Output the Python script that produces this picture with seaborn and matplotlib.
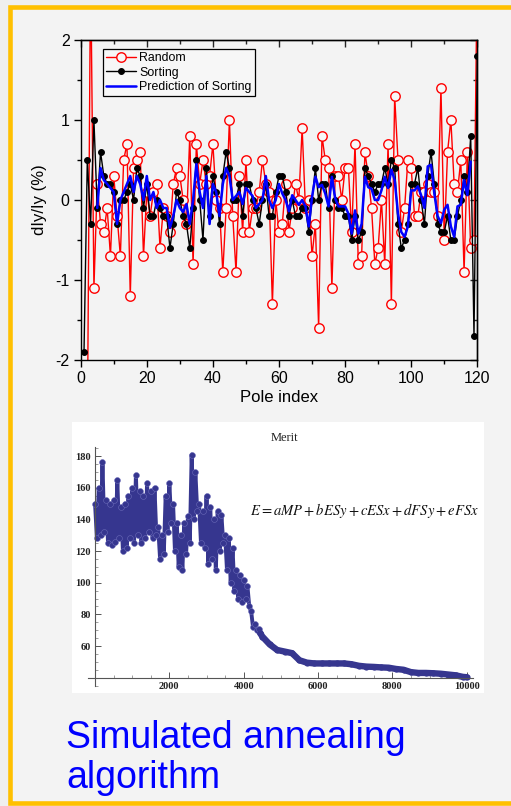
import matplotlib
matplotlib.use('Agg')
import matplotlib.pyplot as plt
from matplotlib.patches import Rectangle
from matplotlib.ticker import MultipleLocator, FixedLocator
import seaborn as sns

sns.set_theme(style='white')
plt.rcParams['font.family'] = ['Liberation Sans', 'DejaVu Sans']
plt.rcParams['axes.unicode_minus'] = False
plt.rcParams['mathtext.fontset'] = 'stix'

# ---------------- data: top chart ----------------
random_start = 2
random_vals = [-3.0, 3.0, -1.1, 0.2, -0.3, -0.4, -0.1, -0.7, 0.3,
               -0.2, -0.7, 0.5, 0.7, -1.2, 0.4, 0.5, 0.6, -0.7, 0.1,
               -0.2, 0.1, 0.2, -0.6, -0.1, -0.2, -0.4, 0.2, 0.4, 0.3,
               0.0, -0.3, 0.8, -0.8, 0.7, 0.2, 0.5, 0.2, 0.3, 0.7,
               0.0, -0.1, -0.9, -0.1, 1.0, -0.2, -0.9, 0.3, -0.4, 0.5,
               -0.4, -0.1, -0.1, 0.1, 0.5, 0.2, 0.1, -1.3, 0.0, -0.4,
               -0.3, 0.2, -0.4, -0.1, 0.2, 0.0, 0.9, -0.1, 0.0, -0.7,
               -0.3, -1.6, 0.8, 0.5, 0.4, -1.1, 0.3, 0.3, 0.0, 0.4,
               0.4, -0.4, 0.7, -0.8, -0.7, 0.6, 0.3, -0.1, -0.8, -0.6,
               0.0, -0.8, 0.7, -1.3, 1.3, 0.5, -0.4, -0.1, 0.5, 0.4,
               -0.2, -0.2, 0.1, 0.1, 0.2, 0.1, 0.1, -0.2, 1.4, -0.5,
               0.6, 1.0, 0.2, 0.1, 0.5, -0.9, 0.6, -0.6, -0.5, 3.0]

sorting_start = 1
sorting_vals = [-1.9, 0.5, -0.3, 1.0, -0.1, 0.6, 0.3, 0.2, 0.2, 0.1,
                -0.3, 0.0, 0.0, 0.1, 0.2, 0.0, 0.4, 0.3, -0.1, 0.2,
                -0.2, -0.2, 0.0, -0.1, -0.2, -0.2, -0.6, -0.3, 0.1, 0.0,
                -0.2, -0.3, -0.6, -0.1, 0.5, 0.0, -0.5, 0.4, -0.2, 0.3,
                0.1, -0.3, 0.3, 0.6, 0.4, 0.0, 0.0, 0.2, -0.2, 0.2,
                0.2, 0.0, -0.1, -0.3, 0.0, 0.2, -0.2, -0.2, 0.1, 0.3,
                0.3, 0.1, -0.2, 0.0, -0.2, -0.2, -0.1, -0.1, -0.4, 0.0,
                0.4, 0.0, 0.2, 0.2, -0.1, 0.3, 0.0, -0.1, -0.1, -0.2,
                -0.2, -0.5, -0.2, -0.5, -0.4, 0.4, 0.3, 0.2, 0.1, 0.2,
                0.2, 0.4, 0.2, 0.5, 0.4, -0.3, -0.6, -0.5, -0.3, 0.2,
                0.2, 0.4, 0.0, -0.3, 0.3, 0.6, 0.2, -0.3, -0.4, -0.4,
                -0.2, -0.5, -0.5, -0.2, 0.0, 0.3, 0.1, 0.8, -1.7, 1.8]

pred_start = 5
pred_vals = [-0.1, 0.4, 0.25, 0.2, 0.15, 0.1,
             -0.3, 0.0, 0.1, 0.2, 0.3, 0.1, 0.3, 0.2, 0.0, 0.3,
             0.0, 0.1, -0.1, 0.0, -0.1, -0.1, -0.35, -0.2, 0.0, -0.1,
             -0.15, -0.05, -0.3, 0.0, 0.45, 0.1, -0.1, 0.3, -0.3, 0.2,
             0.1, -0.2, 0.2, 0.4, 0.3, 0.0, 0.05, 0.1, -0.05, 0.15,
             0.1, 0.05, -0.1, -0.05, 0.0, 0.3, 0.0, -0.1, 0.0, 0.2,
             0.08, 0.0, -0.14, 0.06, 0.0, -0.06, 0.0, -0.08, -0.33, 0.04,
             0.29, 0.16, 0.19, 0.08, -0.08, 0.29, 0.02, -0.08, -0.08, -0.08,
             -0.17, -0.42, -0.13, -0.42, -0.3, 0.29, 0.16, 0.14, 0.0, 0.0,
             0.12, 0.29, 0.15, 0.38, 0.25, -0.17, -0.4, -0.46, -0.33, 0.12,
             0.12, 0.17, 0.06, -0.1, 0.42, 0.44, 0.08, -0.2, -0.29, -0.12,
             -0.06, -0.33, -0.46, -0.08, -0.06, 0.25, 0.06, 0.48]

x_ticks_top = [0, 20, 40, 60, 80, 100, 120]
y_ticks_top = [-2, -1, 0, 1, 2]

# ---------------- data: merit chart ----------------
merit_band_x = list(range(0, 4401, 100))
merit_hi = [150, 160, 176, 152, 150, 152, 165, 148, 150, 155,
            160, 168, 158, 155, 163, 158, 160, 135, 130, 155,
            163, 150, 138, 130, 138, 142, 181, 170, 150, 145,
            155, 148, 140, 145, 143, 130, 128, 122, 108, 105,
            102, 98, 82, 74, 71]
merit_lo = [128, 130, 132, 125, 124, 126, 128, 120, 122, 128,
            125, 130, 125, 128, 132, 128, 130, 115, 118, 132,
            138, 120, 110, 108, 118, 125, 140, 145, 125, 122,
            112, 115, 108, 120, 125, 108, 100, 95, 90, 88,
            90, 85, 72, 70, 68]
merit_tail_x = [4500, 4700, 4900, 5100, 5300, 5500, 5700, 5900, 6100, 6300,
                6500, 6700, 6900, 7100, 7300, 7500, 7700, 7900, 8100, 8300,
                8500, 8700, 8900, 9100, 9300, 9500, 9700, 9900, 10000]
merit_tail = [66, 61, 57.5, 56.5, 55.5, 51, 49.5, 49, 49, 49,
              49, 49, 48.5, 47.5, 47, 46.8, 46.5, 46.3, 45.5, 45,
              43.5, 43, 43, 42.8, 42.5, 42, 41.5, 40.5, 40.3]
x_ticks_merit = [2000, 4000, 6000, 8000, 10000]
y_ticks_merit = [60, 80, 100, 120, 140, 160, 180]

# ---------------- figure ----------------
W, H = 511, 806
fig = plt.figure(figsize=(W / 100, H / 100), dpi=100, facecolor='#efefef')


def fx(px):
    return px / W


def fy(py):
    return 1 - py / H


fig.patches.append(Rectangle((fx(10), fy(803)), 1.2, fy(7) - fy(803),
                             transform=fig.transFigure, facecolor='#f3f3f3',
                             edgecolor='#FFC000', lw=3.3, zorder=-3))
fig.patches.append(Rectangle((fx(72), fy(693)), fx(484) - fx(72), fy(422) - fy(693),
                             transform=fig.transFigure, facecolor='white',
                             edgecolor='none', zorder=-2))

# ---------------- top chart ----------------
ax1 = fig.add_axes([fx(80.7), fy(360), fx(477.3) - fx(80.7), fy(40) - fy(360)])
ax1.patch.set_alpha(0)

rx = list(range(random_start, random_start + len(random_vals)))
sx = list(range(sorting_start, sorting_start + len(sorting_vals)))
px_ = list(range(pred_start, pred_start + len(pred_vals)))

sns.lineplot(x=rx, y=random_vals, ax=ax1, color='#ff0000', lw=1.0, marker='o',
             markersize=6.8, markerfacecolor='#f7f7f7', markeredgecolor='#ff0000',
             markeredgewidth=1.0, label='Random', zorder=2, sort=False)
sns.lineplot(x=sx, y=sorting_vals, ax=ax1, color='black', lw=1.0, marker='o',
             markersize=4.2, markerfacecolor='black', markeredgecolor='black',
             label='Sorting', zorder=3, sort=False)
sns.lineplot(x=px_, y=pred_vals, ax=ax1, color='#0000ff', lw=1.8,
             label='Prediction of Sorting', zorder=4, sort=False)

ax1.set_xlim(0, 120)
ax1.set_ylim(-2, 2)
ax1.xaxis.set_major_locator(FixedLocator(x_ticks_top))
ax1.xaxis.set_minor_locator(MultipleLocator(10))
ax1.yaxis.set_major_locator(FixedLocator(y_ticks_top))
ax1.yaxis.set_minor_locator(MultipleLocator(0.5))
for s in ax1.spines.values():
    s.set_color('black')
    s.set_linewidth(1.0)
ax1.tick_params(axis='both', which='major', direction='out', length=5, width=1,
                color='black', labelsize=11.5, labelcolor='black', pad=3,
                bottom=True, left=True)
ax1.tick_params(axis='both', which='minor', direction='out', length=3, width=1,
                color='black', bottom=True, left=True)
sec_x = ax1.secondary_xaxis('top')
sec_x.xaxis.set_major_locator(FixedLocator(x_ticks_top))
sec_x.xaxis.set_minor_locator(MultipleLocator(10))
sec_x.tick_params(which='major', direction='in', length=5, width=1, labeltop=False)
sec_x.tick_params(which='minor', direction='in', length=3, width=1)
sec_x.spines['top'].set_linewidth(1.0)
sec_y = ax1.secondary_yaxis('right')
sec_y.yaxis.set_major_locator(FixedLocator(y_ticks_top))
sec_y.yaxis.set_minor_locator(MultipleLocator(0.5))
sec_y.tick_params(which='major', direction='in', length=5, width=1, labelright=False)
sec_y.tick_params(which='minor', direction='in', length=3, width=1)
sec_y.spines['right'].set_linewidth(1.0)

ax1.set_xlabel('Pole index', fontsize=12, color='black', labelpad=3)
ax1.set_ylabel('dIy/Iy (%)', fontsize=12, color='black', labelpad=6)

leg = ax1.legend(loc='upper left', bbox_to_anchor=(0.056, 0.972), borderaxespad=0,
                 fontsize=8.9, frameon=True, fancybox=False, edgecolor='black',
                 facecolor='#f7f7f7', framealpha=1, handlelength=2.4,
                 handletextpad=0.3, borderpad=0.25, labelspacing=0.2)
leg.get_frame().set_linewidth(0.9)
for t in leg.get_texts():
    t.set_color('black')

# ---------------- merit chart ----------------
ax2 = fig.add_axes([fx(87.6), fy(685.6), fx(473.4) - fx(87.6), fy(446.6) - fy(685.6)])
ax2.patch.set_alpha(0)
mcol = '#36368f'

zig_x, zig_y = [], []
for i, xb in enumerate(merit_band_x):
    zig_x += [xb, xb + 50]
    zig_y += [merit_hi[i], merit_lo[i]]
sns.lineplot(x=zig_x, y=zig_y, ax=ax2, color=mcol, lw=2.8, marker='o',
             markersize=4.2, markeredgewidth=0.4, markeredgecolor='#6a6ab8',
             sort=False)
sns.lineplot(x=[zig_x[-1]] + merit_tail_x, y=[zig_y[-1]] + merit_tail, ax=ax2,
             color=mcol, lw=4.6, marker='o', markersize=4.5, markeredgewidth=0,
             sort=False)

ax2.set_xlim(-200, 10180)
ax2.set_ylim(35, 186)
ax2.spines['top'].set_visible(False)
ax2.spines['right'].set_visible(False)
ax2.spines['left'].set_position(('data', 0))
ax2.spines['bottom'].set_position(('data', 40))
for s in ('left', 'bottom'):
    ax2.spines[s].set_color('#555555')
    ax2.spines[s].set_linewidth(0.8)
ax2.xaxis.set_major_locator(FixedLocator(x_ticks_merit))
ax2.xaxis.set_minor_locator(MultipleLocator(500))
ax2.yaxis.set_major_locator(FixedLocator(y_ticks_merit))
ax2.yaxis.set_minor_locator(MultipleLocator(5))
ax2.tick_params(axis='both', which='major', direction='in', length=4, width=0.7,
                color='#555555', labelsize=7.5, labelcolor='#222222', pad=3,
                bottom=True, left=True)
ax2.tick_params(axis='both', which='minor', direction='in', length=2, width=0.5,
                color='#777777', bottom=True, left=True)
ax2.set_xticklabels([str(v) for v in x_ticks_merit])
ax2.set_yticklabels([str(v) for v in y_ticks_merit])
for lab in ax2.get_xticklabels() + ax2.get_yticklabels():
    lab.set_family(['Liberation Serif', 'DejaVu Serif'])
    lab.set_fontsize(7.5)
    lab.set_fontweight('bold')
ax2.set_xlabel('')
ax2.set_ylabel('')

fig.text(fx(284), fy(438), 'Merit', ha='center', va='center', fontsize=9,
         family=['Liberation Serif', 'DejaVu Serif'], color='#222222')
fig.text(fx(365), fy(511), r'$E = aMP + bESy + cESx + dFSy + eFSx$', ha='center',
         va='center', fontsize=10.5, color='#111111')

# ---------------- caption ----------------
fig.text(fx(66), fy(788), 'Simulated annealing\nalgorithm', ha='left', va='baseline',
         fontsize=27, color='#0000ff', linespacing=1.15)

fig.savefig('out.png', dpi=100, facecolor=fig.get_facecolor())
